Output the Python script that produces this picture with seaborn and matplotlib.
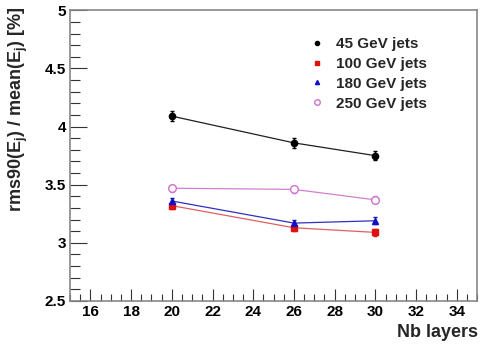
import matplotlib
matplotlib.use("Agg")
import matplotlib.pyplot as plt
from matplotlib.lines import Line2D
from matplotlib.ticker import MultipleLocator
import seaborn as sns
import pandas as pd

layers = [20, 26, 30]
series_names = ["45 GeV jets", "100 GeV jets", "180 GeV jets", "250 GeV jets"]
v45 = [4.09, 3.86, 3.75]
v100 = [3.32, 3.13, 3.09]
v180 = [3.36, 3.17, 3.19]
v250 = [3.47, 3.46, 3.37]
err45 = [0.04, 0.04, 0.04]
err100 = [0.03, 0.03, 0.03]
err180 = [0.03, 0.03, 0.03]
err250 = [0.03, 0.03, 0.03]
xticks = [16, 18, 20, 22, 24, 26, 28, 30, 32, 34]
yticks = [2.5, 3, 3.5, 4, 4.5, 5]
ytick_labels = ["2.5", "3", "3.5", "4", "4.5", "5"]

sns.set_theme(style="white")
plt.rcParams['font.family'] = ['Liberation Sans', 'DejaVu Sans']

fig = plt.figure(figsize=(4.8, 3.44), dpi=100)
ax = fig.add_axes([0.146, 0.125, 0.848, 0.845])

colors = ["black", "#e01010", "#1010c0", "#d070d0"]
linecolors = ["#202020", "#e06060", "#3030c0", "#d080d0"]
markers = ["o", "s", "^", "o"]
facecolors = ["black", "#e01010", "#1010c0", "white"]
msizes = [4.5, 4.5, 4.5, 5.5]
vals = [v45, v100, v180, v250]
errs = [err45, err100, err180, err250]

handles = []
for name, v, e, c, lc, m, fc, ms in zip(series_names, vals, errs, colors, linecolors, markers, facecolors, msizes):
    df = pd.DataFrame({"layers": layers, "val": v})
    sns.lineplot(data=df, x="layers", y="val", ax=ax, color=lc, linewidth=0.9)
    ax.errorbar(layers, v, yerr=e, fmt=m, color=c, mfc=fc, mec=c, ms=ms,
                ecolor=c, elinewidth=1, capsize=1.5, capthick=1, zorder=3)
    handles.append(Line2D([], [], linestyle='none', marker=m, color=c, mfc=fc, mec=c,
                          markersize=ms - 1.5))

ax.set_xlim(15, 35)
ax.set_ylim(2.5, 5)
ax.xaxis.set_minor_locator(MultipleLocator(0.5))
ax.yaxis.set_minor_locator(MultipleLocator(0.1))
ax.set_xticks(xticks)
ax.set_xticklabels([str(t) for t in xticks], fontweight='bold', fontsize=11)
ax.set_yticks(yticks)
ax.set_yticklabels(ytick_labels, fontweight='bold', fontsize=11)
ax.tick_params(axis='x', which='major', direction='in', length=9, width=0.8,
               colors='#333333', labelcolor='black', pad=3)
ax.tick_params(axis='x', which='minor', direction='in', length=5, width=0.8, colors='#333333')
ax.tick_params(axis='y', which='major', direction='in', length=12, width=0.8,
               colors='#333333', labelcolor='black', pad=3)
ax.tick_params(axis='y', which='minor', direction='in', length=7, width=0.8, colors='#333333')
ax.tick_params(axis='both', which='both', bottom=True, left=True, top=False, right=False)

for sp in ax.spines.values():
    sp.set_color('#888888')
    sp.set_linewidth(1.2)

ax.set_xlabel("")
ax.set_ylabel("")
fig.text(0.996, 0.032, "Nb layers", fontsize=13, fontweight='bold', ha='right', va='center')
fig.text(0.038, 0.683, r"rms90(E$_\mathregular{j}$) / mean(E$_\mathregular{j}$) [%]",
         fontsize=13, fontweight='bold', rotation=90, ha='center', va='center')

leg = ax.legend(handles, series_names, loc='upper left', bbox_to_anchor=(0.555, 0.955),
                frameon=False, handletextpad=0.7, labelspacing=0.38,
                handlelength=1.0, prop={'weight': 'bold', 'size': 11})

fig.savefig("out.png", dpi=100)
